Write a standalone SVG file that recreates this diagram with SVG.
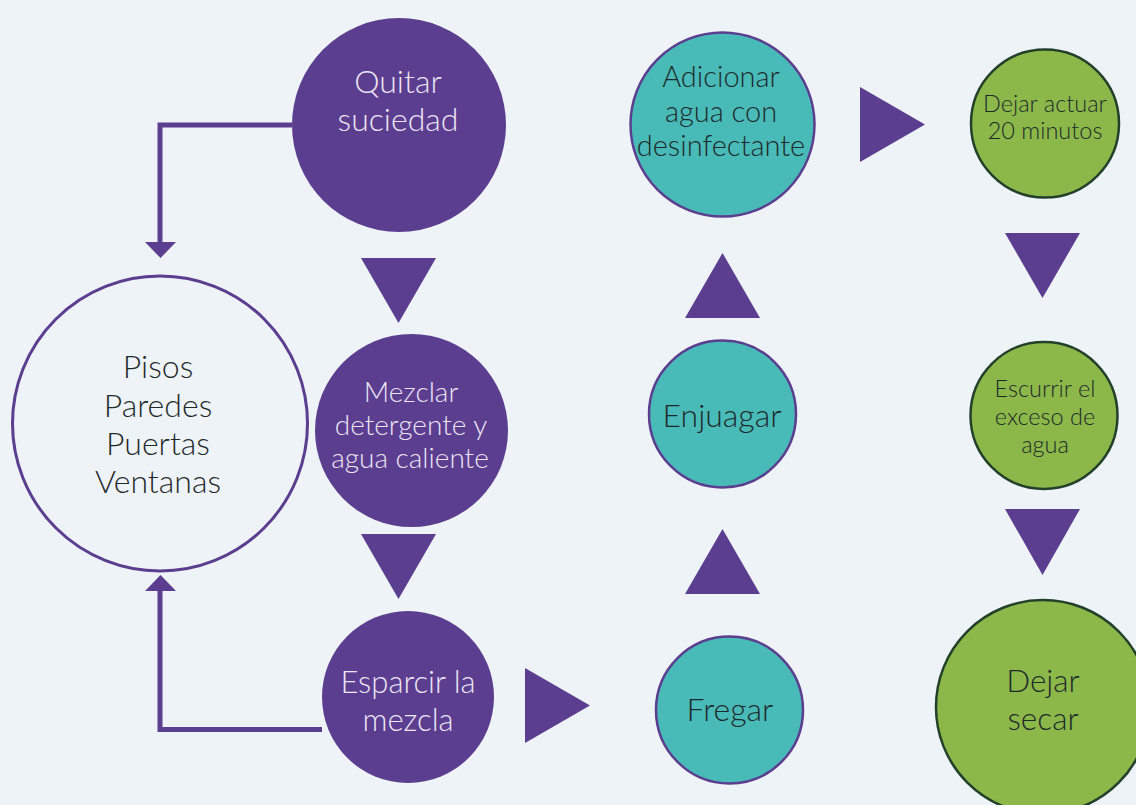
<svg xmlns="http://www.w3.org/2000/svg" width="1136" height="805" viewBox="0 0 1136 805">
<style>
text{font-family:Lato,"Open Sans","Liberation Sans",sans-serif;font-weight:300;text-anchor:middle}
.lt{fill:#ECE6F4}
.dk{fill:#1E2A2A}
.p{fill:#5B3E90}
.tri{fill:#5B3E90}
.teal{fill:#48BAB7;stroke:#5B3E90;stroke-width:2.5}
.green{fill:#8CB84A;stroke:#22402A;stroke-width:2.5}
.conn{fill:none;stroke:#5B3E90;stroke-width:5}
</style>
<rect width="1136" height="805" fill="#EEF3F8"/>
<g id="connectors">
<path class="conn" d="M292 125 H160 V244"/>
<polygon class="tri" points="145,242 176,242 160.5,258"/>
<path class="conn" d="M322 729.5 H160 V589"/>
<polygon class="tri" points="145,591 176,591 160.5,575"/>
<polygon class="tri" points="361,258 436,258 398.5,323"/>
<polygon class="tri" points="361,534 436,534 398.5,599"/>
<polygon class="tri" points="525,668 590,705.5 525,743"/>
<polygon class="tri" points="685,594 760,594 722.5,529"/>
<polygon class="tri" points="685,318 760,318 722.5,253"/>
<polygon class="tri" points="860,87 925,124.5 860,162"/>
<polygon class="tri" points="1005,233 1080,233 1042.5,298"/>
<polygon class="tri" points="1005,509 1080,509 1042.5,575"/>
</g>
<g id="pisos">
<circle cx="160" cy="423.5" r="147.5" fill="none" stroke="#5B3E90" stroke-width="3"/>
<text class="dk" font-size="32" x="158" y="378">Pisos</text>
<text class="dk" font-size="32" x="158" y="417">Paredes</text>
<text class="dk" font-size="32" x="158" y="455">Puertas</text>
<text class="dk" font-size="32" x="158" y="493">Ventanas</text>
</g>
<g id="quitar">
<circle class="p" cx="399" cy="125" r="107"/>
<text class="lt" font-size="32" x="398" y="93">Quitar</text>
<text class="lt" font-size="32" x="398" y="131">suciedad</text>
</g>
<g id="mezclar">
<circle class="p" cx="411.5" cy="430.5" r="96.5"/>
<text class="lt" font-size="28" x="411" y="402">Mezclar</text>
<text class="lt" font-size="28" x="411" y="435">detergente y</text>
<text class="lt" font-size="28" x="410" y="468">agua caliente</text>
</g>
<g id="esparcir">
<circle class="p" cx="408" cy="697" r="86"/>
<text class="lt" font-size="31" x="408" y="693">Esparcir la</text>
<text class="lt" font-size="31" x="408" y="731">mezcla</text>
</g>
<g id="fregar">
<circle class="teal" cx="729.5" cy="710" r="73.5"/>
<text class="dk" font-size="32" x="730" y="721">Fregar</text>
</g>
<g id="enjuagar">
<circle class="teal" cx="722.5" cy="414" r="73.5"/>
<text class="dk" font-size="32" x="722" y="427">Enjuagar</text>
</g>
<g id="adicionar">
<circle class="teal" cx="722.5" cy="124.5" r="92"/>
<text class="dk" font-size="29" x="721" y="87">Adicionar</text>
<text class="dk" font-size="29" x="721" y="122">agua con</text>
<text class="dk" font-size="29" x="721" y="156">desinfectante</text>
</g>
<g id="dejar-actuar">
<circle class="green" cx="1045" cy="123.5" r="74"/>
<text class="dk" font-size="23.5" x="1045" y="112">Dejar actuar</text>
<text class="dk" font-size="23.5" x="1045" y="139">20 minutos</text>
</g>
<g id="escurrir">
<circle class="green" cx="1044" cy="415.5" r="73.5"/>
<text class="dk" font-size="23.5" x="1045" y="397">Escurrir el</text>
<text class="dk" font-size="23.5" x="1045" y="425">exceso de</text>
<text class="dk" font-size="23.5" x="1045" y="453">agua</text>
</g>
<g id="dejar-secar">
<circle class="green" cx="1043" cy="707" r="107"/>
<text class="dk" font-size="31.5" x="1043" y="692">Dejar</text>
<text class="dk" font-size="31.5" x="1043" y="730">secar</text>
</g>
</svg>
